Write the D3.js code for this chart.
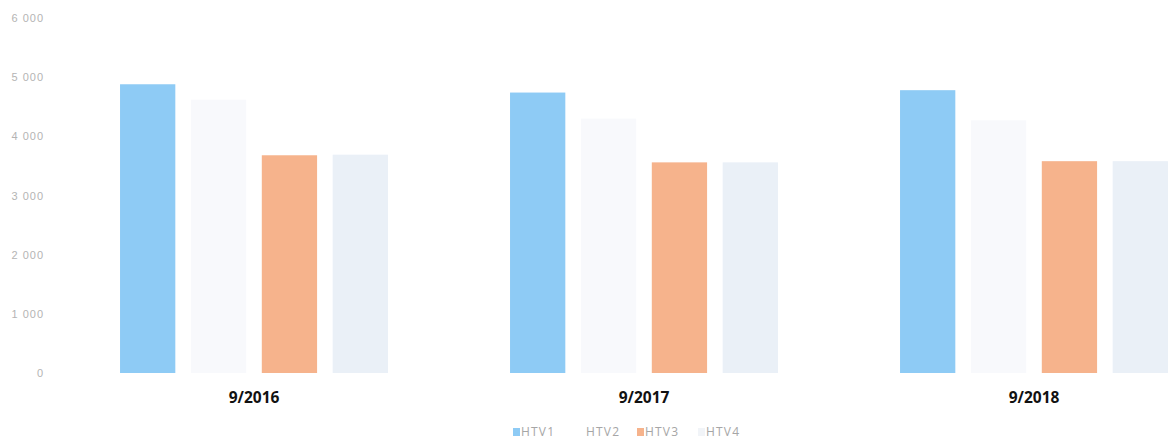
<!DOCTYPE html>
<html>
<head>
<meta charset="utf-8">
<script src="https://cdn.jsdelivr.net/npm/d3@7/dist/d3.min.js"></script>
<style>
  body { margin: 0; background: #fff; }
  svg { display: block; font-family: "Open Sans", "Noto Sans", sans-serif; }
</style>
</head>
<body>
<div id="chart"></div>
<script>
// data
const periods = ["9/2016", "9/2017", "9/2018"];
const seriesNames = ["HTV1", "HTV2", "HTV3", "HTV4"];
const htv1 = [4880, 4740, 4780];
const htv2 = [4620, 4300, 4270];
const htv3 = [3680, 3560, 3580];
const htv4 = [3690, 3560, 3580];
const yTicks = [0, 1000, 2000, 3000, 4000, 5000, 6000];

const colors = ["#8ecbf5", "#f8f9fc", "#f6b38c", "#eaf0f7"];
const legendColors = ["#8ecbf5", "#ffffff", "#f6b38c", "#f1f4f8"];

const width = 1168, height = 442;
const margin = {top: 18, bottom: 69};

const rows = periods.map((p, i) => ({
  period: p,
  values: [htv1[i], htv2[i], htv3[i], htv4[i]]
}));

const svg = d3.select("#chart")
  .append("svg")
  .attr("width", width)
  .attr("height", height);

const x0 = d3.scaleBand()
  .domain(periods)
  .range([59, 1229])
  .paddingInner(0.313)
  .paddingOuter(0.1565);

const x1 = d3.scaleBand()
  .domain(seriesNames)
  .range([0, x0.bandwidth()])
  .paddingInner(0.22)
  .paddingOuter(0);

const y = d3.scaleLinear()
  .domain([0, 6000])
  .range([height - margin.bottom, margin.top]);

const fmt = d3.formatLocale({decimal: ",", thousands: " ", grouping: [3], currency: ["", ""]}).format(",");

// y axis, labels only
const yAxis = svg.append("g")
  .attr("transform", "translate(44,0)")
  .call(d3.axisLeft(y).tickValues(yTicks).tickSize(0).tickPadding(0).tickFormat(d => fmt(d)));
yAxis.select(".domain").remove();
yAxis.selectAll("text")
  .attr("fill", "#b4b4b4")
  .style("font-size", "11px")
  .style("letter-spacing", "1px");

// bars
const groups = svg.append("g")
  .selectAll("g")
  .data(rows)
  .join("g")
  .attr("transform", d => `translate(${x0(d.period)},0)`);

groups.selectAll("rect")
  .data(d => d.values.map((v, i) => ({key: seriesNames[i], value: v, i})))
  .join("rect")
  .attr("x", d => x1(d.key))
  .attr("width", x1.bandwidth())
  .attr("y", d => y(d.value))
  .attr("height", d => y(0) - y(d.value))
  .attr("fill", d => colors[d.i]);

// category labels
svg.append("g")
  .selectAll("text")
  .data(periods)
  .join("text")
  .attr("x", d => x0(d) + x0.bandwidth() / 2)
  .attr("y", 403)
  .attr("text-anchor", "middle")
  .attr("fill", "#111")
  .style("font-size", "15.5px")
  .style("font-weight", "700")
  .text(d => d);

// legend
const legendX = [513, 578, 637, 698];
const legend = svg.append("g")
  .selectAll("g")
  .data(seriesNames)
  .join("g")
  .attr("transform", (d, i) => `translate(${legendX[i]},428)`);

legend.append("rect")
  .attr("width", 7)
  .attr("height", 8)
  .attr("fill", (d, i) => legendColors[i]);

legend.append("text")
  .attr("x", 8)
  .attr("y", 8)
  .attr("fill", "#a6a6a6")
  .style("font-size", "12px")
  .style("letter-spacing", "1.2px")
  .text(d => d);
</script>
</body>
</html>
